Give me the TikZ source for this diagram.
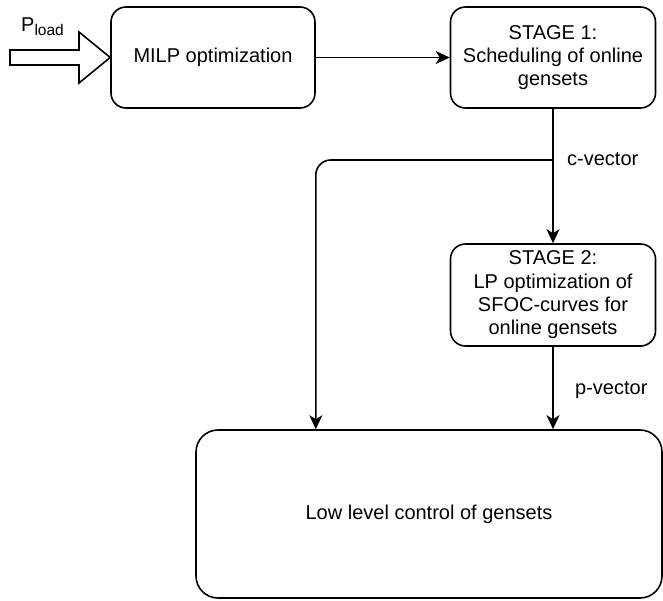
\documentclass[tikz,border=0pt]{standalone}
\usepackage{fontspec}
\setmainfont{Liberation Sans}
\usetikzlibrary{arrows.meta}
\begin{document}
\begin{tikzpicture}[x=1pt,y=-1pt,
  box/.style={draw, line width=1.6pt, rounded corners=15pt, align=center,
    font=\fontsize{20}{23.3}\selectfont, inner sep=0pt},
  conn/.style={line width=1.6pt, -{Stealth[length=14pt,width=13pt,inset=4pt]}},
  lbl/.style={font=\fontsize{20}{23.3}\selectfont, inner sep=0pt}]
\useasboundingbox (0,0) rectangle (663,600);

% blocks
\node[box, minimum width=204pt, minimum height=101pt] (milp) at (213,57.5) {MILP optimization};
\node[box, minimum width=205pt, minimum height=101pt] (s1) at (553,57.5)
  {STAGE 1:\\Scheduling of online\\gensets};
\node[box, minimum width=205pt, minimum height=102pt] (s2) at (553,295)
  {STAGE 2:\\LP optimization of\\SFOC-curves for\\online gensets};
\node[box, rounded corners=22pt, minimum width=466pt, minimum height=168pt] (low) at (429,514)
  {Low level control of gensets};

% load input as a hollow block arrow
\coordinate (tip) at (milp.west);
\draw[line width=1.6pt, line join=miter]
  (10,50) -- (79,50) -- (79,32) -- (tip) -- (79,83) -- (79,65) -- (10,65) -- cycle;
\node[lbl, anchor=base west] (pl) at (21,31)
  {P\raisebox{-4pt}{\fontsize{15.5}{16}\selectfont load}};

% connectors
\coordinate (cj) at (553,160);
\draw[conn] (milp) -- (s1);
\draw[conn] (s1) -- (s2);
\draw[conn, rounded corners=15pt] (cj) -| (milp.east |- low.north);
\draw[conn] (s2) -- (s2.south |- low.north);

% vector labels
\node[lbl, anchor=base west] (cv) at (567,165) {c-vector};
\node[lbl, anchor=base west] (pv) at (575,394.5) {p-vector};
\end{tikzpicture}
\end{document}
